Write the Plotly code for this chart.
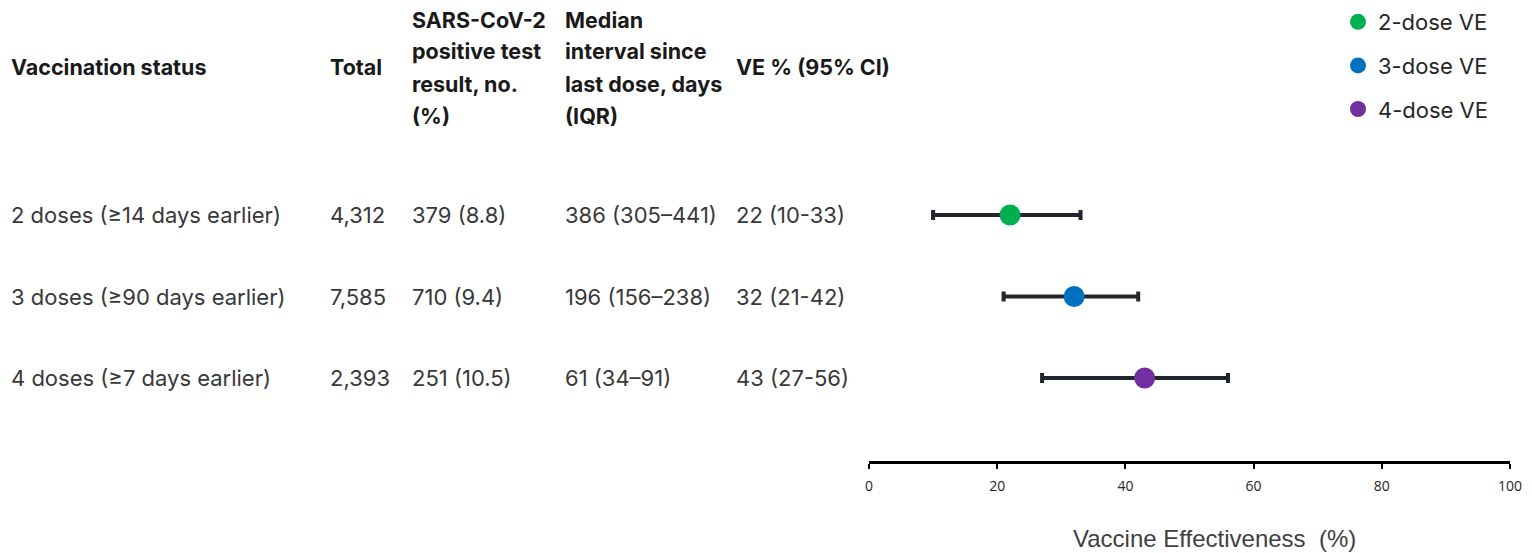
import plotly.graph_objects as go

# ---- data ----
status = ["2 doses (≥14 days earlier)", "3 doses (≥90 days earlier)", "4 doses (≥7 days earlier)"]
total = ["4,312", "7,585", "2,393"]
positive = ["379 (8.8)", "710 (9.4)", "251 (10.5)"]
interval = ["386 (305–441)", "196 (156–238)", "61 (34–91)"]
ve = [22, 32, 43]
ve_lo = [10, 21, 27]
ve_hi = [33, 42, 56]
series_names = ["2-dose VE", "3-dose VE", "4-dose VE"]
colors = ["#00b050", "#0070c0", "#7030a0"]
x_ticks = [0, 20, 40, 60, 80, 100]

headers = [
    ["Vaccination status"],
    ["Total"],
    ["SARS-CoV-2", "positive test", "result, no.", "(%)"],
    ["Median", "interval since", "last dose, days", "(IQR)"],
    ["VE % (95% CI)"],
]

# page body has an 8px margin: work in window pixels and convert
OFF = 8
W, H = 1532 - OFF, 553 - OFF


def fx(px):
    return (px - OFF) / W


def fy(py):
    return 1 - (py - OFF) / H


col_x = [10, 329, 411, 564, 735]
header_line_px = [20, 51, 84, 116]
header_single_px = 67
axis_px = 461
row_px = [215, 297, 378]

fig = go.Figure()

for i in range(len(ve)):
    fig.add_trace(go.Scatter(
        x=[ve[i]], y=[i], mode="markers", name=series_names[i],
        legendgroup=series_names[i],
        marker=dict(size=21, color=colors[i]),
        error_x=dict(type="data", symmetric=False,
                     array=[ve_hi[i] - ve[i]], arrayminus=[ve[i] - ve_lo[i]],
                     color="#1f2630", thickness=4, width=5),
    ))

ann = []
hfont = dict(family="Inter", size=21.5, color="#1a1a1a")
dfont = dict(family="Inter", size=22, color="#383838")
for c, lines in enumerate(headers):
    pys = [header_single_px] if len(lines) == 1 else header_line_px
    for line, py in zip(lines, pys):
        ann.append(dict(text="<b>%s</b>" % line, xref="paper", yref="paper",
                        x=fx(col_x[c]), y=fy(py), xanchor="left", yanchor="middle",
                        showarrow=False, font=hfont, borderpad=0))

ve_text = ["%d (%d-%d)" % (v, l, h) for v, l, h in zip(ve, ve_lo, ve_hi)]
columns = [status, total, positive, interval, ve_text]
for c, col in enumerate(columns):
    for r, val in enumerate(col):
        ann.append(dict(text=val, xref="paper", yref="y", x=fx(col_x[c]), y=r,
                        xanchor="left", yanchor="middle", showarrow=False, font=dfont,
                        borderpad=0))

# axis title placed as annotation (offset to the right as in reference)
ann.append(dict(text="Vaccine Effectiveness  (%)", xref="paper", yref="paper",
                x=fx(1214), y=fy(538), xanchor="center", yanchor="middle",
                showarrow=False, borderpad=0,
                font=dict(family="Liberation Sans", size=24, color="#404040")))

step = (row_px[2] - row_px[0]) / 2
y_top = -(row_px[0] - OFF) / step
y_bot = (axis_px - row_px[0]) / step

fig.update_layout(
    width=W, height=H,
    margin=dict(l=0, r=0, t=0, b=0, autoexpand=False),
    paper_bgcolor="white", plot_bgcolor="white",
    annotations=ann,
    showlegend=True,
    legend=dict(x=fx(1338), y=fy(1), xanchor="left", yanchor="top",
                font=dict(family="Inter", size=22, color="#262626"),
                traceorder="grouped", tracegroupgap=12, itemsizing="trace",
                bgcolor="rgba(0,0,0,0)"),
    xaxis=dict(domain=[fx(869), fx(1510)], range=[0, 100], tickvals=x_ticks,
               showline=True, linecolor="#000000", linewidth=3,
               ticks="outside", ticklen=5, tickwidth=2, tickcolor="#000000",
               showgrid=False, zeroline=False, anchor="y",
               tickfont=dict(family="Open Sans", size=14, color="#262626"),
               ticklabelstandoff=5),
    yaxis=dict(domain=[fy(axis_px), 1], range=[y_bot, y_top], visible=False,
               showgrid=False, zeroline=False),
)

fig.write_html("out.html")
